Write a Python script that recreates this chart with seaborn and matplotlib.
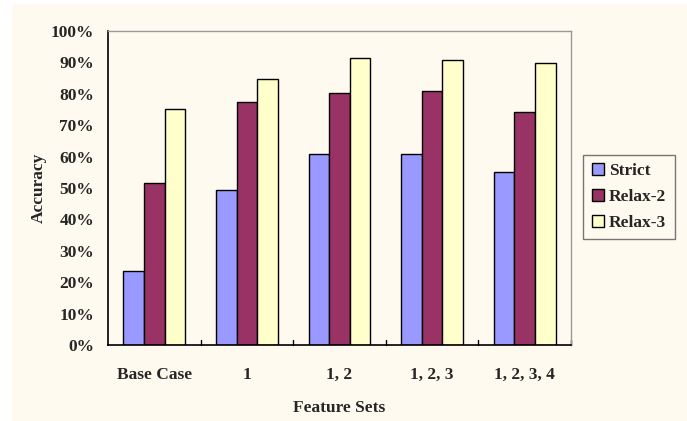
import matplotlib
matplotlib.use("Agg")
import matplotlib.pyplot as plt
import seaborn as sns
import pandas as pd
from matplotlib.patches import Rectangle
from matplotlib.ticker import MultipleLocator, PercentFormatter

categories = ["Base Case", "1", "1, 2", "1, 2, 3", "1, 2, 3, 4"]
strict = [23.7, 49.5, 60.7, 60.7, 55.1]
relax2 = [51.6, 77.5, 80.4, 81.0, 74.3]
relax3 = [75.0, 84.8, 91.4, 90.8, 89.7]
series_names = ["Strict", "Relax-2", "Relax-3"]
colors = ["#9999FF", "#993366", "#FFFFCC"]

df = pd.DataFrame({
    "Feature Sets": categories * 3,
    "Accuracy": strict + relax2 + relax3,
    "Series": [s for s in series_names for _ in categories],
})

sns.set_style("white")
plt.rcParams["font.family"] = ["Liberation Serif", "DejaVu Serif"]
plt.rcParams["font.weight"] = "bold"

FS = 12.5
bg = "#FFFAEF"
fig = plt.figure(figsize=(6.87, 4.21), dpi=100)
fig.patch.set_facecolor("white")
fig.patches.append(Rectangle((12 / 687, 0), 1 - 12 / 687, 1 - 4 / 421,
                             transform=fig.transFigure, facecolor=bg,
                             edgecolor="none", zorder=-10))
ax = fig.add_axes([108 / 687, 1 - 345 / 421, 463 / 687, 314 / 421])
ax.set_facecolor(bg)

sns.barplot(data=df, x="Feature Sets", y="Accuracy", hue="Series",
            palette=colors, edgecolor="black", linewidth=1.0,
            width=0.667, gap=0, ax=ax, saturation=1)

ax.set_ylim(0, 100)
ax.set_xlim(-0.5, len(categories) - 0.5)
ax.yaxis.set_major_locator(MultipleLocator(10))
ax.yaxis.set_major_formatter(PercentFormatter(decimals=0))
ax.tick_params(axis="y", direction="in", length=5, width=1, labelsize=FS, pad=10)
ax.tick_params(axis="x", length=0, labelsize=FS, pad=16)
ax.set_xticks(range(len(categories)))
ax.set_xticklabels(categories, fontweight="bold")
for lbl in ax.get_yticklabels():
    lbl.set_fontweight("bold")
# tick marks between groups
for xv in [0.5, 1.5, 2.5, 3.5, 4.5]:
    ax.plot([xv, xv], [0, 1.6], color="black", lw=1, clip_on=False)

for s in ["left", "bottom"]:
    ax.spines[s].set_color("black")
    ax.spines[s].set_linewidth(1.2)
for s in ["top", "right"]:
    ax.spines[s].set_color("#999999")
    ax.spines[s].set_linewidth(1.0)

ax.set_xlabel("Feature Sets", fontsize=FS, fontweight="bold", labelpad=12)
ax.set_ylabel("Accuracy", fontsize=FS, fontweight="bold", labelpad=3)

leg = ax.legend(loc="center left", bbox_to_anchor=(583 / 687, 1 - 197 / 421),
                bbox_transform=fig.transFigure, frameon=True, fancybox=False,
                fontsize=FS, handlelength=0.7, handleheight=0.7,
                handletextpad=0.3, labelspacing=0.55, borderpad=0.5,
                borderaxespad=0)
leg.get_frame().set_edgecolor("#555555")
leg.get_frame().set_linewidth(1.0)
leg.get_frame().set_facecolor(bg)
for t in leg.get_texts():
    t.set_fontweight("bold")

fig.savefig("out.png", dpi=100, facecolor=fig.get_facecolor())
